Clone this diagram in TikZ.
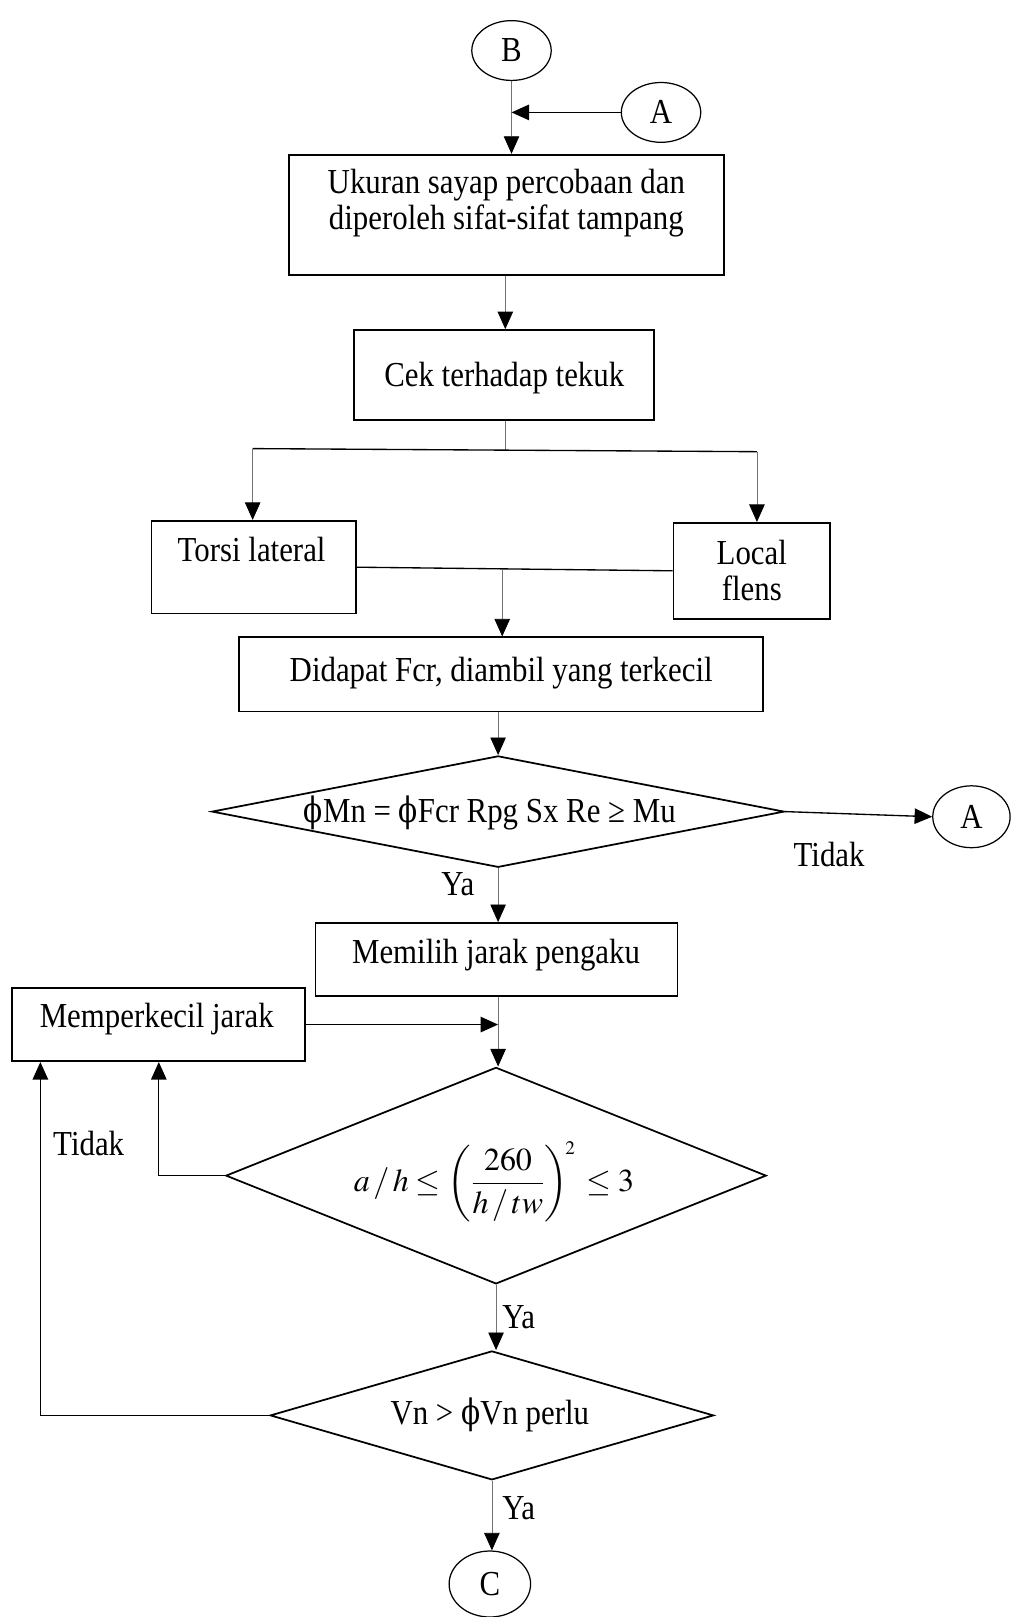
\documentclass[tikz,border=0pt]{standalone}
\usepackage{mathptmx}
\usepackage{fontspec}
\setmainfont{Liberation Serif}[FakeStretch=0.88]
\newfontfamily\phifont{DejaVu Serif}[FakeStretch=0.8]
\usetikzlibrary{shapes.geometric,arrows.meta}
\newcommand\fph{{\phifont\char"03D5}}
\tikzset{
  box/.style={draw, line width=1.7pt, inner sep=0pt},
  dia/.style={draw, diamond, line width=1.7pt, inner sep=0pt},
  conn/.style={draw, ellipse, line width=1.2pt, inner sep=0pt, font=\fontsize{34}{35}\selectfont},
  txt/.style={font=\fontsize{34}{35}\selectfont, inner sep=0pt, align=center},
  arr/.style={-{Triangle[length=17pt,width=15pt,color=black]}},
  faint/.style={draw=black!55, line width=0.8pt},
  heavy/.style={draw=black, line width=1.3pt}
}
\begin{document}
\begin{tikzpicture}[x=1pt,y=-1pt]
\useasboundingbox (0,0) rectangle (986,1568);
% connectors (circles)
\node[conn, minimum width=77pt, minimum height=58pt] (B) at (496,49) {B};
\node[conn, minimum width=77pt, minimum height=58pt] (A1) at (641,109) {A};
% box 1
\node[box, minimum width=422pt, minimum height=117pt] (box1) at (491,208.5) {};
\node[txt] (t1) at (491,197) {Ukuran sayap percobaan dan\\diperoleh sifat-sifat tampang};
% box 2
\node[box, minimum width=291pt, minimum height=87pt] (box2) at (488.5,363.5) {};
\node[txt] (t2) at (489,367) {Cek terhadap tekuk};
\coordinate (jc) at (490,436);
\coordinate (jl) at (245,435);
\coordinate (jr) at (734,438);
% torsi / local
\node[box, minimum width=198pt, minimum height=90pt] (torsi) at (246,550) {};
\node[txt] (t3) at (244,533) {Torsi lateral};
\node[box, minimum width=152pt, minimum height=93pt] (local) at (729,553.5) {};
\node[txt] (t4) at (729,553) {Local\\flens};
\coordinate (jm) at (487,552);
% didapat
\node[box, minimum width=508pt, minimum height=72pt] (didapat) at (486,654) {};
\node[txt] (t5) at (486,653) {Didapat Fcr, diambil yang terkecil};
% decision 1
\node[dia, minimum width=555pt, minimum height=108pt] (d1) at (483,787) {};
\node[txt] (t6) at (475,788) {\fph Mn = \fph Fcr Rpg Sx Re ≥ Mu};
\node[conn, minimum width=75pt, minimum height=60pt] (A2) at (942,792) {A};
\node[txt] (tidak1) at (804,829) {Tidak};
\node[txt] (ya1) at (444,857) {Ya};
% memilih
\node[box, minimum width=351pt, minimum height=71pt] (memilih) at (481.5,930.5) {};
\node[txt] (t7) at (481,926) {Memilih jarak pengaku};
% memperkecil
\node[box, minimum width=284pt, minimum height=71pt] (kecil) at (154,993.5) {};
\node[txt] (t8) at (152,988) {Memperkecil jarak};
\coordinate (m1) at (483,993);
\path (kecil.south west) ++(28pt,0) coordinate (k2);
% decision 2
\node[dia, minimum width=524pt, minimum height=210pt] (d2) at (481,1140) {};
\node[txt] (t9) at (479,1146) {\fontsize{31}{35}\selectfont$\displaystyle a\,/\,h \le \left(\frac{260}{h\,/\,tw}\right)^{\!\scriptscriptstyle 2}\, \le 3$};
\node[txt] (tidak2) at (86,1109) {Tidak};
\node[txt] (ya2) at (503,1277) {Ya};
% decision 3
\node[dia, minimum width=430pt, minimum height=125pt] (d3) at (477,1372.5) {};
\node[txt] (t10) at (475,1372) {Vn > \fph Vn perlu};
\node[txt] (ya3) at (503,1462) {Ya};
\node[conn, minimum width=79pt, minimum height=64pt] (C) at (475,1536) {C};
% edges
\draw[faint, arr] (B.south) -- (B.south |- box1.north);
\draw[heavy, arr] (A1.west) -- (A1.west -| B.south);
\draw[faint, arr] (jc |- box1.south) -- (jc |- box2.north);
\draw[faint] (jc |- box2.south) -- (jc);
\draw[heavy] (jl) -- (jr);
\draw[faint, arr] (jl) -- (jl |- torsi.north);
\draw[faint, arr] (jr) -- (jr |- local.north);
\draw[heavy] (torsi.east) -- (local.west);
\draw[faint, arr] (jm) -- (jm |- didapat.north);
\draw[faint, arr] (d1.north |- didapat.south) -- (d1.north);
\draw[heavy, arr] (d1.east) -- (A2.west);
\draw[faint, arr] (d1.south) -- (d1.south |- memilih.north);
\draw[faint, arr] (m1 |- memilih.south) -- (m1 |- d2.north);
\draw[heavy, arr] (kecil.east) -- (kecil.east -| m1);
\draw[heavy, arr] (d2.west) -| (kecil.south);
\draw[heavy, arr] (d3.west) -| (k2);
\draw[faint, arr] (d2.south) -- (d2.south |- d3.north);
\draw[faint, arr] (d3.south) -- (d3.south |- C.north);
\end{tikzpicture}
\end{document}
